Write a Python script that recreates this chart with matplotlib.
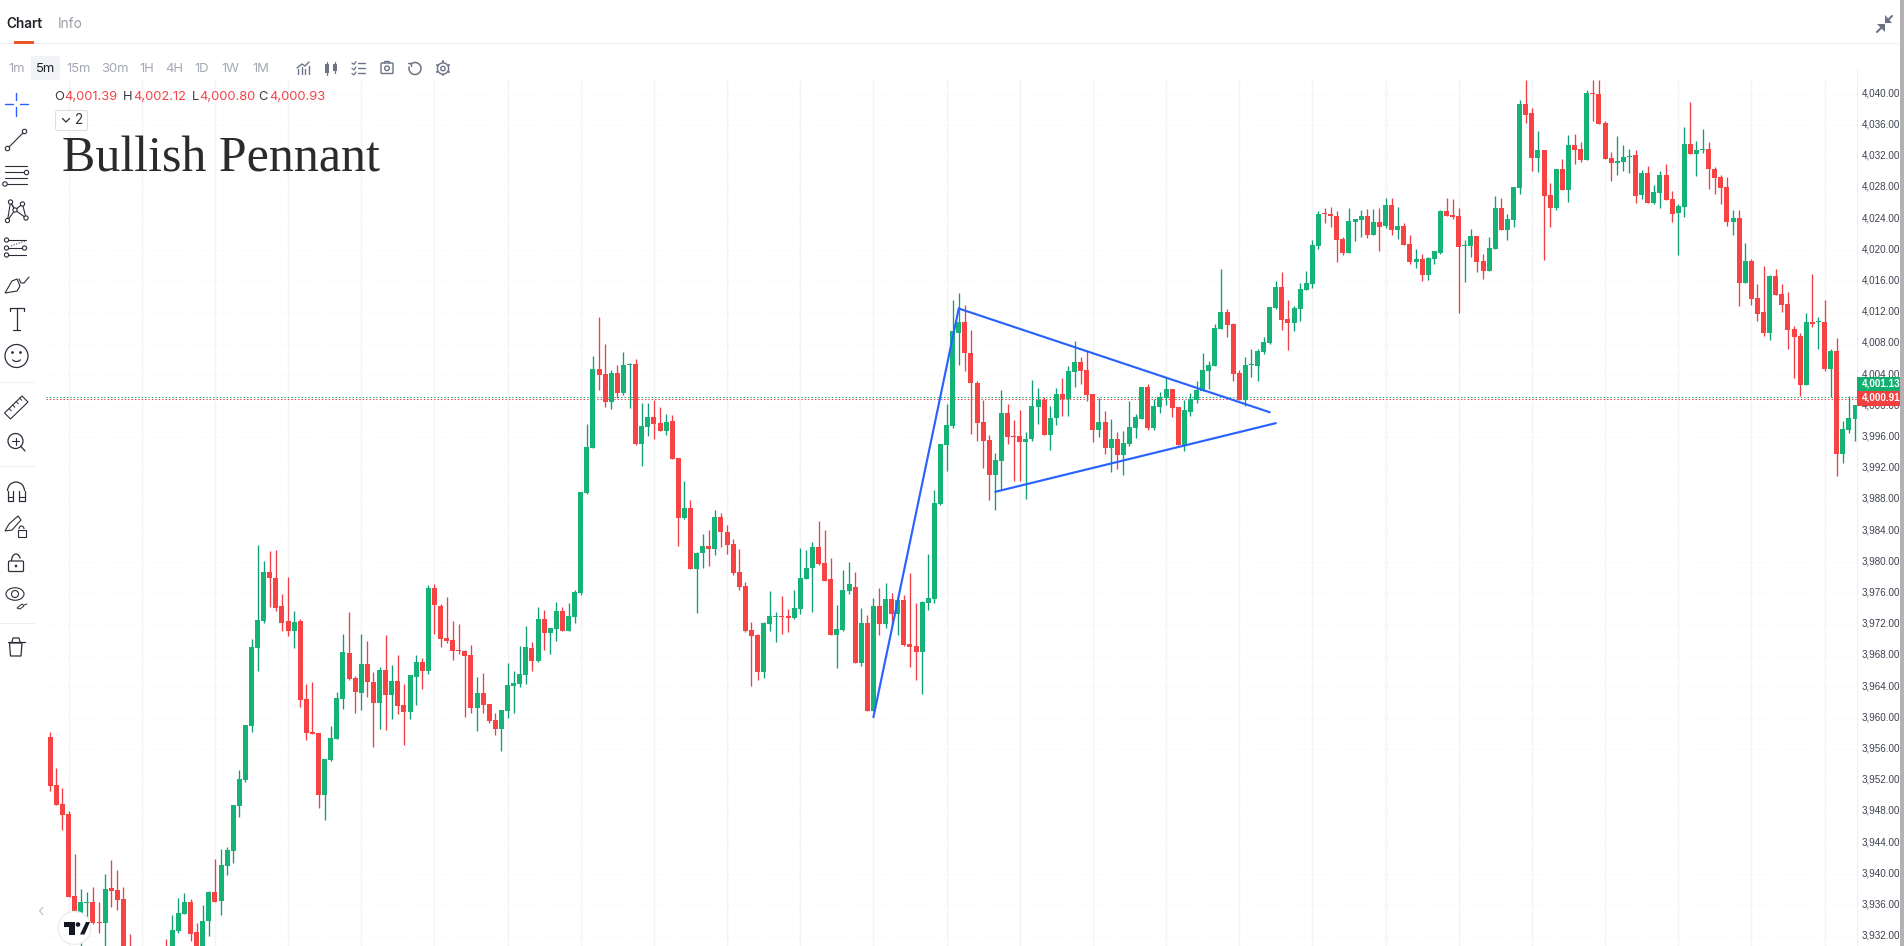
import matplotlib
matplotlib.use("Agg")
import matplotlib.pyplot as plt
import numpy as np
from matplotlib.patches import Rectangle, Circle, FancyBboxPatch, Polygon, Arc, Ellipse

plt.rcParams['font.family'] = ['Inter', 'DejaVu Sans']

# ---------- data (prices, 5-minute candles) ----------
opens = [
 3957.8,3951.6,3949.2,3947.9,3937.4,3933.9,3936.5,3936.6,3934.0,3933.9,
 3938.4,3938.1,3937.0,3930.0,3925.0,3928.0,3926.0,3928.0,3925.0,3930.0,
 3930.0,3932.9,3935.1,3936.6,3932.8,3930.0,3934.2,3937.9,3936.7,3941.2,
 3943.2,3948.9,3952.3,3959.2,3969.2,3972.6,3978.9,3978.1,3974.6,3972.6,
 3971.4,3972.6,3962.6,3958.4,3958.3,3950.3,3954.8,3957.5,3962.6,3968.5,
 3965.3,3963.4,3967.1,3964.8,3962.1,3966.4,3963.1,3964.9,3961.9,3961.0,
 3965.5,3967.4,3966.2,3976.9,3974.6,3970.5,3970.2,3968.9,3968.8,3968.3,
 3961.5,3963.4,3962.0,3959.9,3958.8,3961.1,3964.3,3964.6,3965.7,3969.2,
 3967.5,3972.9,3971.1,3971.6,3973.9,3971.3,3973.1,3976.2,3989.0,3994.8,
 4004.9,4004.3,4000.7,4004.4,4001.9,4005.5,4005.6,3995.3,3997.5,3998.8,
 3998.0,3997.0,3998.3,3993.5,3985.8,3987.1,3979.3,3981.4,3982.2,3981.9,
 3986.0,3984.0,3982.5,3978.9,3977.1,3971.5,3970.8,3966.1,3972.2,3973.2,
 3973.3,3973.3,3973.0,3974.2,3978.0,3979.4,3982.1,3980.1,3978.0,3970.8,
 3971.5,3976.5,3977.0,3967.2,3972.4,3961.1,3974.5,3972.2,3975.5,3973.5,
 3975.3,3969.7,3969.4,3968.7,3974.9,3975.4,3987.6,3995.2,3997.6,4009.6,
 4011.0,4007.0,4003.1,3998.1,3995.8,3991.3,3993.1,3999.3,3996.4,3996.4,
 3995.6,3996.0,4000.1,4001.0,3996.5,3998.7,4001.7,4001.1,4004.6,4005.8,
 4004.8,4001.7,3997.1,3998.1,3994.8,3996.0,3993.9,3995.3,3997.4,3998.5,
 4002.6,3997.4,4000.1,4001.2,4002.4,4000.1,3995.2,3999.4,4001.0,4002.1,
 4004.7,4005.3,4010.1,4012.2,4010.7,4004.4,4001.0,4005.4,4005.3,4007.1,
 4008.3,4012.8,4015.5,4011.4,4010.8,4012.6,4015.1,4015.8,4020.7,4024.9,
 4024.8,4024.6,4021.6,4019.8,4023.8,4024.0,4024.6,4022.1,4023.8,4023.3,
 4026.0,4022.8,4023.3,4021.0,4018.7,4019.0,4017.0,4019.0,4019.8,4025.2,
 4024.7,4024.6,4020.7,4020.7,4022.0,4018.8,4017.5,4020.3,4025.6,4022.8,
 4024.0,4028.1,4038.9,4037.8,4032.0,4033.0,4027.2,4025.6,4030.6,4027.9,
 4033.7,4033.2,4031.7,4040.3,4040.2,4036.5,4032.0,4031.3,4031.5,4032.1,
 4032.4,4027.2,4030.1,4026.2,4027.5,4029.8,4026.7,4024.9,4025.7,4033.8,
 4032.5,4033.0,4033.1,4030.6,4029.6,4028.3,4023.8,4024.3,4016.0,4018.8,
 4014.0,4012.2,4009.5,4016.9,4014.5,4013.3,4010.1,4009.2,4002.9,4011.0,
 4010.9,4011.0,4004.9,4007.2,3994.0,3997.1,3998.5]
closes = [
 3951.5,3949.0,3947.8,3937.2,3934.6,3936.6,3936.6,3933.9,3933.9,3938.3,
 3938.0,3936.9,3929.5,3928.0,3928.0,3926.0,3928.0,3925.0,3927.0,3926.0,
 3933.0,3935.2,3936.6,3932.5,3930.5,3934.2,3937.9,3936.6,3941.3,3943.3,
 3949.0,3952.4,3959.3,3969.3,3972.8,3978.9,3978.1,3974.3,3972.4,3971.4,
 3972.5,3962.5,3958.3,3958.1,3950.3,3954.9,3957.6,3962.8,3968.7,3965.2,
 3963.5,3967.1,3964.8,3962.1,3966.4,3963.1,3964.9,3961.7,3961.0,3965.7,
 3967.4,3966.2,3976.9,3974.7,3970.3,3970.1,3968.8,3968.8,3968.1,3961.5,
 3963.4,3961.9,3959.8,3958.8,3961.2,3964.4,3964.7,3965.8,3969.3,3967.5,
 3972.9,3971.1,3971.7,3973.9,3971.3,3973.3,3976.3,3989.2,3994.9,4004.9,
 4004.2,4000.7,4004.4,4001.9,4005.4,4005.6,3995.3,3997.6,3998.8,3997.9,
 3997.0,3998.1,3993.4,3985.8,3987.1,3979.3,3981.4,3982.2,3981.9,3986.0,
 3984.0,3982.4,3978.8,3977.0,3971.4,3970.7,3966.1,3972.4,3973.3,3973.3,
 3973.2,3973.0,3974.3,3978.1,3979.4,3982.1,3979.9,3977.8,3970.8,3971.6,
 3976.6,3977.4,3967.2,3972.4,3961.1,3974.5,3972.2,3975.5,3973.5,3975.3,
 3969.6,3969.3,3968.7,3975.1,3975.6,3987.8,3995.3,3997.8,4009.8,4011.0,
 4007.0,4003.1,3998.0,3995.7,3991.3,3993.3,3999.3,3996.2,3996.3,3995.6,
 3996.0,4000.2,4001.0,3996.5,3998.7,4001.7,4001.1,4004.7,4005.8,4004.7,
 4001.6,3997.1,3998.1,3994.8,3996.0,3993.9,3995.5,3997.5,3998.8,4002.6,
 3997.4,4000.2,4001.3,4002.4,3999.9,3995.2,3999.7,4001.1,4002.2,4004.8,
 4005.5,4010.2,4012.2,4010.6,4004.3,4001.0,4005.5,4005.5,4007.2,4008.4,
 4012.9,4015.5,4011.2,4010.8,4012.8,4015.2,4016.0,4020.8,4024.8,4024.8,
 4024.6,4021.5,4019.8,4023.9,4024.2,4024.6,4022.1,4023.8,4023.2,4026.0,
 4022.8,4023.3,4020.8,4018.7,4019.0,4017.0,4019.2,4020.1,4025.2,4024.6,
 4024.4,4020.6,4020.8,4022.0,4018.7,4017.5,4020.5,4025.6,4022.8,4024.2,
 4028.3,4038.9,4037.5,4032.0,4033.0,4027.1,4025.6,4030.6,4027.9,4033.7,
 4033.0,4031.7,4040.3,4040.2,4036.3,4031.9,4031.3,4031.6,4032.1,4032.2,
 4027.1,4030.1,4026.2,4027.6,4029.8,4026.6,4024.8,4025.8,4033.8,4032.5,
 4033.0,4033.1,4030.6,4029.4,4028.1,4023.8,4024.3,4016.0,4018.8,4013.9,
 4012.0,4009.5,4016.9,4014.4,4013.1,4009.9,4009.0,4002.9,4011.0,4010.7,
 4011.0,4004.9,4007.2,3994.0,3997.2,3998.7,4000.3]
highs = [
 3958.4,3953.8,3951.2,3948.3,3942.8,3938.3,3937.9,3938.5,3936.6,3940.2,
 3942.0,3940.7,3938.5,3932.5,3929.0,3929.0,3929.0,3929.0,3928.0,3931.9,
 3934.9,3937.1,3937.8,3937.0,3933.9,3936.2,3938.0,3942.1,3943.4,3943.7,
 3949.0,3953.5,3959.3,3970.3,3982.4,3980.3,3981.6,3981.7,3976.1,3978.3,
 3973.9,3972.9,3964.6,3964.8,3958.3,3954.9,3959.2,3963.5,3971.0,3973.8,
 3965.6,3971.0,3970.1,3966.1,3966.7,3970.8,3967.0,3968.3,3964.6,3965.7,
 3968.3,3967.9,3977.2,3977.4,3974.8,3975.7,3972.6,3972.2,3968.9,3969.6,
 3965.5,3966.0,3962.0,3960.8,3961.2,3967.2,3966.2,3969.4,3972.0,3969.9,
 3974.4,3974.0,3971.7,3975.1,3974.4,3974.9,3976.6,3989.2,3997.9,4006.6,
 4011.6,4008.1,4004.8,4005.4,4007.1,4005.7,4006.2,4000.6,4000.6,4001.0,
 4000.0,3999.2,3999.0,3993.5,3990.6,3988.1,3981.5,3983.8,3984.3,3986.9,
 3986.5,3984.9,3983.1,3981.9,3977.6,3972.5,3971.0,3972.5,3976.5,3973.8,
 3975.8,3974.2,3976.6,3982.0,3981.7,3982.8,3985.5,3984.3,3980.7,3974.7,
 3979.2,3980.2,3978.9,3974.3,3973.4,3975.6,3976.9,3977.5,3976.2,3975.9,
 3975.9,3978.8,3974.9,3975.2,3981.2,3989.4,3995.3,4000.4,4013.8,4014.7,
 4013.1,4009.9,4003.4,4001.0,3996.5,3994.2,4002.2,4000.5,3998.4,3999.7,
 3996.9,4003.5,4002.5,4001.3,4000.2,4002.5,4003.8,4005.3,4008.5,4006.5,
 4007.4,4001.7,4001.2,3999.6,3998.5,3996.9,3997.0,4000.8,3999.2,4002.6,
 4003.0,4001.1,4002.0,4003.9,4002.4,4000.1,4001.0,4001.9,4003.4,4007.0,
 4006.0,4010.7,4017.8,4012.6,4010.8,4004.8,4006.5,4007.5,4007.5,4009.0,
 4012.9,4016.2,4017.4,4013.8,4013.0,4016.0,4017.5,4021.5,4025.2,4025.6,
 4025.7,4025.2,4021.9,4025.6,4024.2,4025.3,4025.5,4025.5,4025.6,4026.9,
 4026.9,4025.7,4023.7,4022.1,4020.3,4019.7,4019.3,4020.1,4025.3,4026.9,
 4026.7,4025.6,4021.5,4022.9,4022.0,4019.7,4021.9,4027.1,4026.9,4024.8,
 4028.3,4039.4,4042.0,4038.4,4035.5,4033.0,4028.8,4030.6,4031.9,4034.9,
 4035.1,4034.0,4040.7,4042.0,4042.0,4036.7,4032.8,4034.8,4033.7,4033.1,
 4033.0,4030.5,4031.0,4028.5,4030.3,4031.2,4027.8,4026.1,4036.0,4039.2,
 4034.2,4035.7,4034.0,4030.8,4029.8,4029.6,4025.3,4025.3,4021.1,4019.0,
 4015.8,4018.1,4017.0,4017.8,4015.8,4014.8,4010.4,4009.5,4012.1,4017.1,
 4011.6,4013.8,4007.5,4008.9,3998.3,4001.5,4000.3]
lows = [
 3950.8,3949.0,3945.8,3937.2,3933.7,3930.7,3934.3,3933.8,3932.6,3931.0,
 3936.0,3935.6,3928.0,3926.0,3924.0,3925.0,3925.0,3924.0,3924.0,3925.0,
 3929.0,3932.6,3935.1,3931.6,3929.0,3929.0,3932.3,3936.6,3934.9,3940.0,
 3941.6,3947.5,3952.0,3958.4,3966.2,3972.4,3974.4,3973.9,3971.4,3970.7,
 3969.2,3961.6,3957.4,3958.1,3948.7,3947.1,3954.7,3957.5,3961.3,3965.0,
 3960.8,3961.2,3962.9,3956.5,3958.8,3958.7,3960.1,3960.7,3956.7,3960.0,
 3961.9,3963.9,3965.8,3971.0,3969.3,3969.8,3967.6,3968.4,3960.3,3960.8,
 3958.5,3960.8,3959.6,3958.0,3956.0,3960.2,3960.8,3964.2,3964.6,3966.2,
 3967.4,3968.9,3968.4,3970.1,3971.3,3971.3,3972.4,3976.0,3988.9,3994.8,
 4002.2,4000.1,3999.8,4001.2,4001.6,3999.9,3995.2,3992.5,3996.4,3996.0,
 3997.0,3996.5,3993.4,3982.2,3985.7,3979.3,3973.7,3979.4,3979.7,3981.1,
 3982.1,3981.2,3978.5,3976.6,3971.2,3964.3,3965.1,3965.3,3971.4,3969.9,
 3971.0,3971.2,3972.9,3973.5,3978.0,3973.8,3979.8,3977.7,3970.8,3966.6,
 3971.4,3976.1,3967.2,3966.9,3961.1,3961.1,3970.8,3971.7,3972.4,3970.8,
 3969.4,3966.7,3965.1,3963.3,3974.0,3974.9,3987.5,3991.9,3997.4,4005.4,
 4004.7,3996.6,3995.7,3992.2,3988.1,3986.9,3989.4,3995.3,3990.6,3990.6,
 3988.3,3995.7,3997.9,3996.5,3994.6,3997.8,3998.9,3998.9,4002.6,4003.0,
 4000.8,3995.6,3996.2,3994.0,3991.7,3992.1,3991.3,3995.0,3996.1,3998.5,
 3997.1,3997.1,3999.3,4000.3,3998.8,3995.2,3994.4,3998.9,4000.6,4002.1,
 4002.4,4005.3,4010.1,4009.0,4003.4,4001.0,4000.2,4003.9,4003.4,4006.9,
 4008.1,4012.6,4009.9,4007.4,4009.8,4011.1,4015.1,4015.3,4020.3,4023.7,
 4023.1,4018.7,4019.5,4019.8,4021.3,4021.9,4021.7,4022.1,4020.1,4023.0,
 4022.1,4021.6,4020.8,4018.4,4017.9,4016.2,4016.3,4018.4,4019.7,4024.6,
 4024.2,4012.1,4016.1,4019.3,4017.4,4016.5,4017.5,4020.3,4022.8,4021.5,
 4023.1,4027.4,4036.5,4030.3,4030.2,4018.9,4023.1,4025.3,4027.9,4026.4,
 4031.2,4031.5,4031.7,4036.7,4036.3,4031.9,4029.0,4029.8,4030.3,4030.1,
 4026.2,4026.7,4026.2,4026.1,4025.6,4026.6,4023.8,4019.6,4024.4,4032.5,
 4029.7,4032.6,4028.0,4027.4,4026.1,4023.3,4022.1,4013.0,4016.0,4013.1,
 4011.1,4009.2,4008.6,4014.4,4012.2,4007.5,4003.8,4001.5,4002.9,4010.3,
 4007.5,4004.7,4001.3,3991.2,3992.9,3996.7,3995.7]

price_ticks = list(range(4040, 3928, -4))
time_grid_start, time_grid_step = 3, 12
last_ask, last_bid = 4001.13, 4000.91
pole_x, pole_y = [135, 149], [3960.1, 4012.5]
upper_x, upper_y = [149, 200], [4012.5, 3999.2]
lower_x, lower_y = [155, 201], [3989.0, 3997.8]
timeframes = ['1m', '5m', '15m', '30m', '1H', '4H', '1D', '1W', '1M']
tf_x = [17, 45.5, 78.5, 115, 146.5, 174.5, 202, 230.5, 260.5]
ohlc_letters = ['O', 'H', 'L', 'C']
ohlc_values = ['4,001.39', '4,002.12', '4,000.80', '4,000.93']

# ---------- constants ----------
W, H = 1904, 946
AX_L, AX_R, AX_T = 46, 1857, 80
CANDLE_STEP, FIRST_X = 6.097, 50.3
PX_PER_UNIT = 7.8
GRID_Y0 = 94            # pixel row of the 4,040 gridline
READ_OFFSET = 0.19      # wick/body rows were read against the tick-label centres
GREEN, RED = '#16b376', '#f74343'
GREEN_W, RED_W = '#0f9d78', '#f23d47'
BLUE = '#2962ff'
INK = '#2a2e39'
GRID = '#f3f4f6'
SCALE_FONT = 'Liberation Sans'

fig = plt.figure(figsize=(W / 100, H / 100), dpi=100, facecolor='white')
ax = fig.add_axes([AX_L / W, 0, (AX_R - AX_L) / W, (H - AX_T) / H])
ax.set_xlim((AX_L - FIRST_X) / CANDLE_STEP, (AX_R - FIRST_X) / CANDLE_STEP)
ax.set_ylim(4040 - (H - GRID_Y0) / PX_PER_UNIT, 4040 + (GRID_Y0 - AX_T) / PX_PER_UNIT)
for s in ax.spines.values():
    s.set_visible(False)
ax.set_xticks([]); ax.set_yticks([])

o = np.array(opens) - READ_OFFSET
c = np.array(closes) - READ_OFFSET
hi = np.array(highs) - READ_OFFSET
lo = np.array(lows) - READ_OFFSET
idx = np.arange(len(o))
up = c >= o

for k in range(time_grid_start, len(o), time_grid_step):
    ax.axvline(k, color=GRID, lw=1.0, zorder=1)
for t in price_ticks:
    ax.axhline(t, color='#eceef2', lw=0.72, ls=(0, (1, 3.4)), zorder=1)

ax.axhline(last_ask, color=GREEN, lw=0.72, ls=(0, (1.4, 2)), zorder=2)
ax.axhline(last_bid, color='#f23d47', lw=0.72, ls=(0, (1.4, 2)), zorder=2)

ax.vlines(idx[up], lo[up], hi[up], color=GREEN_W, lw=0.95, zorder=3)
ax.vlines(idx[~up], lo[~up], hi[~up], color=RED_W, lw=0.95, zorder=3)
bw = 5.0 / CANDLE_STEP
ax.bar(idx[up], np.maximum(c[up] - o[up], 0.13), bottom=o[up], width=bw, color=GREEN, lw=0, zorder=4)
ax.bar(idx[~up], np.minimum(c[~up] - o[~up], -0.13), bottom=o[~up], width=bw, color=RED, lw=0, zorder=4)

for xs, ys in [(pole_x, pole_y), (upper_x, upper_y), (lower_x, lower_y)]:
    ax.plot(xs, ys, color=BLUE, lw=1.55, solid_capstyle='round', zorder=6)

for t in price_ticks:
    ax.annotate(f'{t:,.2f}', xy=(1, t), xycoords=ax.get_yaxis_transform(),
                xytext=(4.5, 0.8), textcoords='offset pixels', va='center', ha='left',
                family=SCALE_FONT, fontsize=7.1, color='#3c4150',
                annotation_clip=False, zorder=7)

# ---------- overlay in pixel coordinates: application chrome ----------
ov = fig.add_axes([0, 0, 1, 1], facecolor='none')
ov.set_xlim(0, W); ov.set_ylim(H, 0); ov.axis('off')

def ln(xs, ys, col=INK, lw=0.8, zorder=4, **kw):
    ov.plot(xs, ys, color=col, lw=lw, solid_capstyle='round', zorder=zorder, **kw)

def ci(x, y, r=2.2, col=INK, lw=0.8, fc='white'):
    ov.add_patch(Circle((x, y), r, fc=fc, ec=col, lw=lw, zorder=5))

def txt(x, y, s, **kw):
    kw.setdefault('va', 'center'); kw.setdefault('ha', 'left')
    ov.text(x, y, s, **kw)

# right price scale border / scrollbar
ln([AX_R, AX_R], [AX_T - 10, H], col='#f0f1f3', lw=0.8, zorder=2)
ov.add_patch(Rectangle((1900, 0), 4, H, fc='#b2b2b2', ec='none', zorder=8))

# last price tags
ov.add_patch(Rectangle((AX_R, 377), 43, 14, fc='#12b06e', ec='none', zorder=6))
ov.add_patch(Rectangle((AX_R, 391), 43, 14.7, fc='#f23f3f', ec='none', zorder=6))
txt(1861.5, 383.6, f'{last_ask:,.2f}', color='white', family=SCALE_FONT, fontsize=7.1, fontweight='bold', zorder=7)
txt(1861.5, 397.8, f'{last_bid:,.2f}', color='white', family=SCALE_FONT, fontsize=7.1, fontweight='bold', zorder=7)

# header tabs
ov.add_patch(Rectangle((0, 43), 1900, 1, fc='#f0f1f3', ec='none', zorder=1))
txt(6, 24, 'Chart', fontsize=9.8, fontweight='semibold', color='#1f2229')
txt(58, 24, 'Info', fontsize=9.8, color='#9a9ea6')
ov.add_patch(Rectangle((14, 41), 20, 3, fc='#e8562a', ec='none', zorder=4))

# collapse icon
grey = '#6b7285'
ln([1877, 1883.5], [32, 25.5], col=grey, lw=1.5)
ov.add_patch(Polygon([[1877, 24.5], [1885, 24.5], [1885, 32]], fc=grey, ec='none'))
ln([1892, 1886], [16, 22], col=grey, lw=1.5)
ov.add_patch(Polygon([[1884.5, 15], [1884.5, 22.7], [1892, 22.7]], fc=grey, ec='none'))

# timeframes
ov.add_patch(FancyBboxPatch((31, 56), 29, 24, boxstyle='round,pad=0,rounding_size=2.5', fc='#f1f3f6', ec='none', zorder=1))
for s, x in zip(timeframes, tf_x):
    txt(x, 68.5, s, ha='center', fontsize=9.4, color='#1f2229' if s == '5m' else '#a4a8b2')

# toolbar icons
ic = '#6b7385'
for x, hgt in zip([298, 301.5, 305, 308.5], [5, 7, 5, 8]):
    ln([x, x], [74, 74 - hgt], col=ic, lw=1.0)
ln([297, 302, 305, 309], [68, 64, 66, 62], col=ic, lw=1.0)
ov.add_patch(Rectangle((325, 64), 4, 9, fc=ic, ec='none'))
ov.add_patch(Rectangle((333, 64), 4, 7, fc=ic, ec='none'))
ln([327, 327], [62, 75], col=ic, lw=0.9); ln([335, 335], [62, 73], col=ic, lw=0.9)
for y in [63, 68.5, 73.5]:
    ln([358, 365], [y, y], col=ic, lw=1.0)
    ln([352, 354, 356], [y, y + 1.4, y - 1.4], col=ic, lw=0.9)
ov.add_patch(FancyBboxPatch((381, 63), 12, 10.5, boxstyle='round,pad=0,rounding_size=1', fc='none', ec=ic, lw=1.0))
ln([384, 385, 389, 390], [63, 61.5, 61.5, 63], col=ic, lw=1.0)
ci(387, 68.3, 2.3, col=ic, lw=1.0)
ov.add_patch(Arc((415, 68.5), 12, 12, theta1=-140, theta2=200, ec=ic, lw=1.1))
ln([408, 411, 411], [63, 63, 66], col=ic, lw=1.0)
ci(443, 68.5, 5.6, col=ic, lw=1.0); ci(443, 68.5, 2.2, col=ic, lw=1.0)
for a in np.deg2rad(np.arange(30, 390, 60)):
    ln([443 + 5.6 * np.cos(a), 443 + 7 * np.cos(a)], [68.5 + 5.6 * np.sin(a), 68.5 + 7 * np.sin(a)], col=ic, lw=1.4)

# OHLC legend
for L, V, lx, vx in zip(ohlc_letters, ohlc_values, [54, 123, 192, 258], [64.5, 133, 199.5, 269]):
    txt(lx, 96.7, L, fontsize=9.3, color='#3a3d45')
    txt(vx, 96.7, V, fontsize=9.3, color='#f5434a')

# collapse-studies button
ov.add_patch(FancyBboxPatch((55.5, 110.5), 32, 20, boxstyle='round,pad=0,rounding_size=2', fc='white', ec='#dcdfe4', lw=0.8, zorder=4))
ln([62.5, 66, 69.5], [118.5, 122, 118.5], lw=0.9, zorder=6)
txt(75, 120.5, '2', fontsize=9.8, color='#30333b', zorder=6)

# title
txt(62, 172, 'Bullish Pennant', family='Liberation Serif', fontsize=36, color='#2b2b2b', va='baseline')

# ---------- left drawing toolbar ----------
ln([5, 13], [104, 104], col=BLUE, lw=1.0); ln([20, 28], [104, 104], col=BLUE, lw=1.0)
ln([16.3, 16.3], [93, 100], col=BLUE, lw=1.0); ln([16.3, 16.3], [107, 116], col=BLUE, lw=1.0)
ln([7.5, 24.5], [148.5, 131.5]); ci(7.5, 148.5); ci(24.5, 131.5)
for y in [166, 172.5, 178.5, 184]:
    ln([5, 27], [y, y])
ci(26.5, 172.5); ci(5, 184)
pts = [(7.5, 220.5), (10.5, 202), (15, 210), (22.5, 204), (26, 218)]
ln([p[0] for p in pts], [p[1] for p in pts])
ln([10.5, 15, 7.5], [202, 210, 220.5]); ln([15, 26], [210, 218])
for x, y in pts:
    ci(x, y, 2.1)
for y in [240, 248, 255]:
    ln([6, 26], [y, y]); ci(6.5, y, 2.1)
ci(24.5, 248, 2.1)
ln([11, 25], [246, 241], lw=0.7, ls=(0, (1.2, 1.6)))
ov.add_patch(Polygon([[5, 293], [12, 281], [17, 279], [20, 286], [17, 291]], fc='white', ec=INK, lw=0.8, closed=True))
ln([19, 21, 24, 29], [279, 283, 283, 277])
ln([16.5, 16.5], [308, 330], lw=0.9)
ln([9.5, 9.5, 24, 24], [311, 308, 308, 311], lw=0.9)
ln([13, 20], [330, 330], lw=0.9)
ci(16.5, 356, 11.5, lw=0.9, fc='none'); ci(12.5, 352.5, 0.8, fc=INK); ci(20.5, 352.5, 0.8, fc=INK)
ov.add_patch(Arc((16.5, 358), 9, 7, theta1=20, theta2=160, ec=INK, lw=0.9, zorder=5))
ov.add_patch(Polygon([[4.5, 413], [22, 396], [28, 402], [10.5, 419]], fc='white', ec=INK, lw=0.8, zorder=3))
for x, y in [(9, 408.5), (12.5, 405), (16, 401.5), (19.5, 398)]:
    ln([x, x + 2.3], [y, y + 2.3], lw=0.7)
ci(15.5, 441, 7.5, lw=0.9, fc='none')
ln([12, 19], [441, 441], lw=0.8); ln([15.5, 15.5], [437.5, 444.5], lw=0.8); ln([21, 25], [446.5, 451], lw=0.9)
ov.add_patch(Arc((16, 491), 17, 18, theta1=180, theta2=360, ec=INK, lw=0.9))
ln([7.5, 7.5, 13, 13], [491, 501, 501, 491], lw=0.9); ln([18.5, 18.5, 24.5, 24.5], [491, 501, 501, 491], lw=0.9)
ln([7.5, 13], [497, 497], lw=0.8); ln([18.5, 24.5], [497, 497], lw=0.8)
ov.add_patch(Polygon([[5, 531], [9, 524], [18, 516], [21, 520], [12, 530]], fc='white', ec=INK, lw=0.8))
ov.add_patch(Rectangle((17.5, 530), 8, 6.5, fc='white', ec=INK, lw=0.8))
ov.add_patch(Arc((21.5, 529), 5, 6, theta1=180, theta2=360, ec=INK, lw=0.8))
ov.add_patch(FancyBboxPatch((8.5, 561), 15, 10.5, boxstyle='round,pad=0,rounding_size=1.2', fc='white', ec=INK, lw=0.9))
ov.add_patch(Arc((16, 561), 9, 14, theta1=180, theta2=330, ec=INK, lw=0.9))
ci(16, 566, 0.8, fc=INK)
ov.add_patch(Ellipse((15, 594), 18, 12.5, fc='white', ec=INK, lw=0.8))
ci(15, 594, 3.5, lw=0.8)
ov.add_patch(Polygon([[17, 608], [22, 604], [24, 606], [20, 609]], fc='white', ec=INK, lw=0.7))
ln([24, 27], [605, 604], lw=0.7)
ov.add_patch(Polygon([[9.5, 643], [22, 643], [21, 656], [10.5, 656]], fc='white', ec=INK, lw=0.9))
ln([7.5, 24.5], [642, 642], lw=0.9); ln([12, 13, 19, 20], [642, 638, 638, 642], lw=0.9)
for y in [382, 466, 622.5]:
    ln([0, 34], [y, y], col='#eceef1', lw=0.8)

# chart bottom-left logo and pager
txt(40, 911, '\u2039', fontsize=12, color='#c4c7cd', ha='center')
ov.add_patch(Circle((74.5, 928), 16.5, fc='white', ec='#eceef0', lw=1.0, zorder=6))
ov.add_patch(Polygon([[64, 922], [74.5, 922], [74.5, 934.5], [69, 934.5], [69, 927], [64, 927]], fc='#131722', ec='none', zorder=7))
ov.add_patch(Circle((78, 924.5), 2.3, fc='#131722', ec='none', zorder=7))
ov.add_patch(Polygon([[80, 934.5], [86, 922], [90, 922], [84.5, 934.5]], fc='#131722', ec='none', zorder=7))

fig.savefig('out.png', dpi=100, facecolor='white')
